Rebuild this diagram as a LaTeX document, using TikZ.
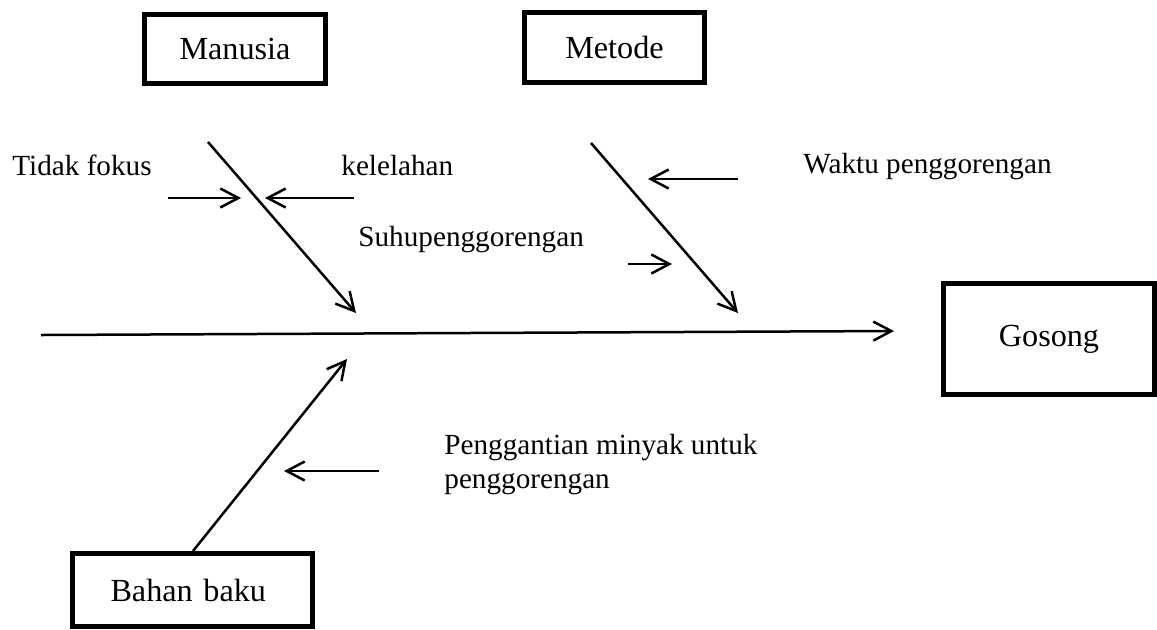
\documentclass[tikz,border=0pt]{standalone}
\usepackage{fontspec}
\setmainfont{Liberation Serif}
\usetikzlibrary{arrows.meta}
\tikzset{
  cat/.style={draw, line width=2.5pt, inner sep=0pt, font=\fontsize{16.1}{19}\selectfont},
  lbl/.style={anchor=base west, inner sep=0pt, font=\fontsize{14.6}{17}\selectfont},
  bone/.style={line width=1.25pt, -{Straight Barb[length=9pt,width=9.5pt,line width=1.25pt]}},
}
\begin{document}
\begin{tikzpicture}[x=0.5pt,y=-0.5pt]
\useasboundingbox (0,0) rectangle (1157,629);
% category boxes
\node[cat, minimum width=90.5pt, minimum height=34.5pt] (manusia) at (235,49) {Manusia};
\node[cat, minimum width=90pt, minimum height=35pt] (metode) at (614.5,47.5) {Metode};
\node[cat, minimum width=105.5pt, minimum height=55.5pt] (gosong) at (1049,339) {Gosong};
\node[cat, minimum width=120pt, minimum height=36.5pt, text width=114pt, align=left] (bahan) at (192.5,590) {\hspace*{16pt}Bahan baku};
% labels
\node[lbl] (tidak) at (12,175) {Tidak fokus};
\node[lbl] (lelah) at (341,175) {kelelahan};
\node[lbl] (suhu) at (358,246) {Suhupenggorengan};
\node[lbl] (waktu) at (803,173) {Waktu penggorengan};
\node[lbl] (ganti1) at (444,454) {Penggantian minyak untuk};
\node[lbl] (ganti2) at (444,488) {penggorengan};
% coordinates
\coordinate (s0) at (41,335);
\coordinate (s1) at (894,331);
\coordinate (m0) at (208,142);
\coordinate (m1) at (356,313);
\coordinate (t0) at (591,143);
\coordinate (t1) at (738,313);
\coordinate (b0) at (193,551);
\coordinate (b1) at (347,359);
\coordinate (tf0) at (168,198);
\coordinate (tf1) at (241,198);
\coordinate (ke0) at (354,198);
\coordinate (ke1) at (265,198);
\coordinate (wa0) at (738,179);
\coordinate (wa1) at (648,179);
\coordinate (su0) at (628,264);
\coordinate (su1) at (672,264);
\coordinate (pe0) at (379,471);
\coordinate (pe1) at (284,471);
% spine and bones
\draw[bone] (s0) -- (s1);
\draw[bone] (m0) -- (m1);
\draw[bone] (t0) -- (t1);
\draw[bone] (b0) -- (b1);
% causes
\draw[bone] (tf0) -- (tf1);
\draw[bone] (ke0) -- (ke1);
\draw[bone] (wa0) -- (wa1);
\draw[bone] (su0) -- (su1);
\draw[bone] (pe0) -- (pe1);
\end{tikzpicture}
\end{document}
